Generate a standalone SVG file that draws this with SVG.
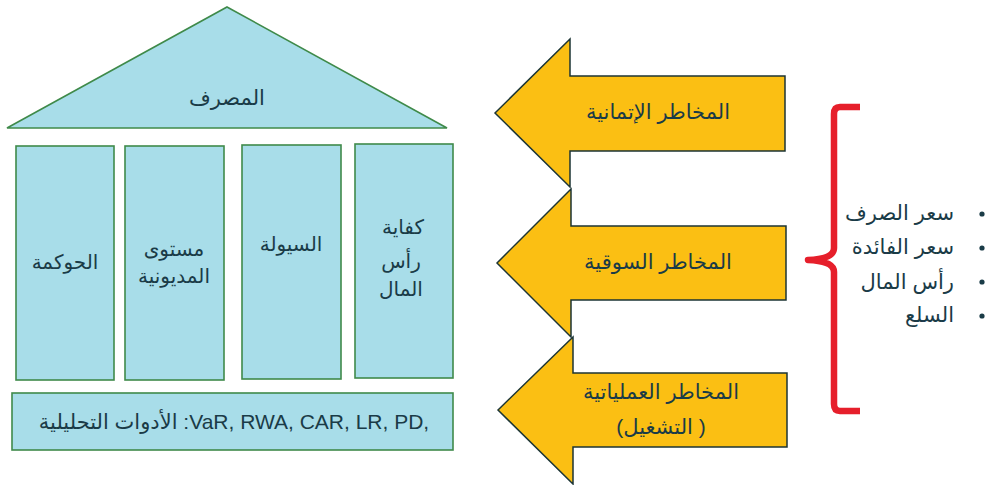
<svg xmlns="http://www.w3.org/2000/svg" width="994" height="485" viewBox="0 0 994 485">
  <style>
    .blue { fill: #a8dde9; stroke: #3f8a4a; stroke-width: 1.6; }
    .arrow { fill: #fbbf13; stroke: #1c3535; stroke-width: 1.5; stroke-linejoin: miter; }
    text { font-family: "Liberation Sans", "DejaVu Sans", sans-serif; fill: #1a3b47; text-anchor: middle; }
    .lbl { font-size: 20px; }
    .big { font-size: 21px; }
    .item { font-size: 21px; text-anchor: end; }
    .dot { fill: #1a3b47; }
    .brace { fill: none; stroke: #e61f2b; stroke-width: 6.5; stroke-linejoin: round; }
  </style>

  <!-- roof -->
  <g id="roof">
    <polygon class="blue" points="227,7 447,128 7,128"/>
    <text class="big" x="227" y="105">المصرف</text>
  </g>

  <!-- pillars -->
  <g id="pillar-governance">
    <rect class="blue" x="16" y="146" width="98" height="234"/>
    <text class="lbl" x="65" y="269">الحوكمة</text>
  </g>
  <g id="pillar-leverage">
    <rect class="blue" x="125" y="146" width="99" height="234"/>
    <text class="lbl" x="174" y="256">مستوى</text>
    <text class="lbl" x="174" y="283">المديونية</text>
  </g>
  <g id="pillar-liquidity">
    <rect class="blue" x="242" y="145" width="99" height="234"/>
    <text class="lbl" x="291" y="251">السيولة</text>
  </g>
  <g id="pillar-capital">
    <rect class="blue" x="355" y="144" width="98" height="234"/>
    <text class="lbl" x="403" y="234">كفاية</text>
    <text class="lbl" x="401" y="268">رأس</text>
    <text class="lbl" x="401" y="296">المال</text>
  </g>

  <!-- foundation -->
  <g id="tools">
    <rect class="blue" x="12" y="393" width="441" height="57"/>
    <text x="234" y="429" style="font-size:21px">الأدوات التحليلية :VaR, RWA, CAR, LR, PD,</text>
  </g>

  <!-- risk arrows -->
  <g id="credit-risk">
    <polygon class="arrow" points="495,113 570,39 570,76 785,76 785,151 570,151 570,187"/>
    <text class="big" x="658" y="119">المخاطر الإتمانية</text>
  </g>
  <g id="market-risk">
    <polygon class="arrow" points="497,263 571,189 571,226 786,226 786,300 571,300 571,337"/>
    <text class="big" x="658" y="269">المخاطر السوقية</text>
  </g>
  <g id="operational-risk">
    <polygon class="arrow" points="498,410 573,337 573,373 787,373 787,447 573,447 573,484"/>
    <text class="big" x="661" y="399">المخاطر العملياتية</text>
    <text class="big" x="661" y="434">(التشغيل )</text>
  </g>

  <!-- connectors -->
  <g id="connectors">
    <path class="brace" d="M 860,107 H 840 Q 834,107 834,114 V 248 Q 834,259 808,260 Q 834,261 834,272 V 404 Q 834,411 840,411 H 860"/>
  </g>

  <!-- market risk factors -->
  <g id="factors">
    <circle class="dot" cx="982" cy="214" r="2.6"/>
    <text class="item" x="954" y="220">سعر الصرف</text>
    <circle class="dot" cx="982" cy="248" r="2.6"/>
    <text class="item" x="954" y="254">سعر الفائدة</text>
    <circle class="dot" cx="982" cy="282" r="2.6"/>
    <text class="item" x="954" y="289">رأس المال</text>
    <circle class="dot" cx="982" cy="316" r="2.6"/>
    <text class="item" x="954" y="322">السلع</text>
  </g>
</svg>
